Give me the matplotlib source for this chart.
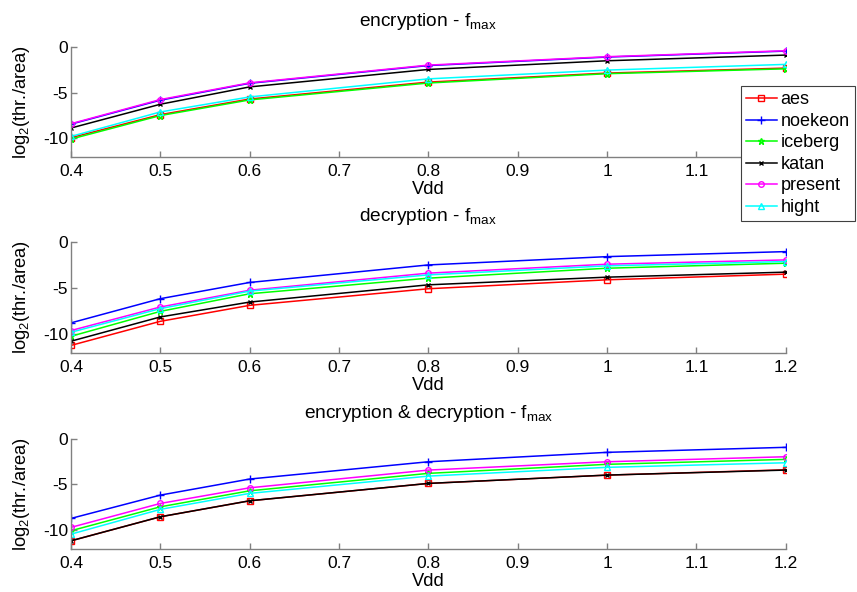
import matplotlib
matplotlib.use("Agg")
import matplotlib.pyplot as plt

plt.rcParams["font.family"] = ["Liberation Sans", "DejaVu Sans"]
plt.rcParams["axes.unicode_minus"] = False
plt.rcParams["mathtext.fontset"] = "custom"
plt.rcParams["mathtext.rm"] = "Liberation Sans"
plt.rcParams["mathtext.it"] = "Liberation Sans"

vdd = [0.4, 0.5, 0.6, 0.8, 1.0, 1.2]
names = ["aes", "noekeon", "iceberg", "katan", "present", "hight"]

# encryption
aes_enc = [-10.0, -7.45, -5.72, -3.85, -2.85, -2.3]
noekeon_enc = [-8.5, -5.85, -3.98, -2.02, -1.08, -0.42]
iceberg_enc = [-10.15, -7.55, -5.82, -3.95, -2.92, -2.38]
katan_enc = [-8.93, -6.3, -4.38, -2.45, -1.49, -0.86]
present_enc = [-8.45, -5.78, -3.93, -1.97, -1.04, -0.38]
hight_enc = [-9.86, -7.15, -5.49, -3.49, -2.52, -1.89]

# decryption
aes_dec = [-11.3, -8.66, -6.91, -5.09, -4.11, -3.49]
noekeon_dec = [-8.83, -6.18, -4.4, -2.48, -1.57, -1.02]
iceberg_dec = [-10.3, -7.57, -5.64, -3.93, -2.84, -2.29]
katan_dec = [-10.84, -8.18, -6.55, -4.66, -3.82, -3.27]
present_dec = [-9.67, -7.09, -5.25, -3.38, -2.4, -1.93]
hight_dec = [-9.86, -7.27, -5.35, -3.57, -2.58, -2.11]

# encryption & decryption
aes_both = [-11.17, -8.54, -6.79, -4.89, -3.98, -3.4]
noekeon_both = [-8.72, -6.17, -4.41, -2.52, -1.49, -0.94]
iceberg_both = [-10.07, -7.45, -5.7, -3.79, -2.8, -2.26]
katan_both = [-11.17, -8.54, -6.79, -4.89, -3.98, -3.43]
present_both = [-9.7, -7.08, -5.37, -3.43, -2.52, -1.97]
hight_both = [-10.44, -7.73, -5.98, -4.09, -3.13, -2.63]

panels = [
    ("encryption - f$_{max}$", [aes_enc, noekeon_enc, iceberg_enc, katan_enc, present_enc, hight_enc]),
    ("decryption - f$_{max}$", [aes_dec, noekeon_dec, iceberg_dec, katan_dec, present_dec, hight_dec]),
    ("encryption & decryption - f$_{max}$", [aes_both, noekeon_both, iceberg_both, katan_both, present_both, hight_both]),
]

colors = ["#ff0000", "#0000ff", "#00ff00", "#000000", "#ff00ff", "#00ffff"]
markers = ["s", "+", "*", "x", "o", "^"]
msizes = [4.5, 5.5, 4.5, 3.5, 4.0, 4.5]

xticks = [0.4, 0.5, 0.6, 0.7, 0.8, 0.9, 1.0, 1.1, 1.2]
xticklabels = ["0.4", "0.5", "0.6", "0.7", "0.8", "0.9", "1", "1.1", "1.2"]
yticks = [-10, -5, 0]

fig = plt.figure(figsize=(8.57, 5.92), dpi=100)
boxes = [(0.0828, 0.7353, 0.834, 0.1848),
         (0.0828, 0.4042, 0.834, 0.1865),
         (0.0828, 0.0721, 0.834, 0.1868)]

axes = []
for (title, series), box in zip(panels, boxes):
    ax = fig.add_axes(box)
    for name, vals, c, m, ms in zip(names, series, colors, markers, msizes):
        ax.plot(vdd, vals, color=c, marker=m, markersize=ms, markerfacecolor="none",
                markeredgecolor=c, linewidth=1.1, label=name)
    ax.set_xlim(0.4, 1.2)
    ax.set_ylim(-12.1, 0)
    ax.set_xticks(xticks)
    ax.set_xticklabels(xticklabels)
    ax.set_yticks(yticks)
    ax.set_yticklabels(["-10", "-5", "0"])
    ax.spines["top"].set_visible(False)
    ax.spines["right"].set_visible(False)
    for s in ["left", "bottom"]:
        ax.spines[s].set_color("#808080")
        ax.spines[s].set_linewidth(1.0)
    ax.tick_params(direction="in", length=4, width=1.0, color="#808080",
                   labelsize=12.5, labelcolor="black")
    ax.tick_params(axis="x", pad=5)
    ax.tick_params(axis="y", pad=2)
    ax.set_title(title, fontsize=13.8, pad=15)
    ax.set_xlabel("Vdd", fontsize=13.2, labelpad=1.5)
    ax.set_ylabel("log$_2$(thr./area)", fontsize=13.2, labelpad=8)
    axes.append(ax)

# the legend hides the last tick label of the top panel
axes[0].get_xticklabels()[-1].set_visible(False)

leg = axes[0].legend(loc="upper right", bbox_to_anchor=(855 / 857, 1 - 86 / 592),
                     bbox_transform=fig.transFigure, fontsize=13, fancybox=False,
                     edgecolor="#404040", framealpha=1, handlelength=1.7,
                     labelspacing=0.25, borderpad=0.3, handletextpad=0.2,
                     borderaxespad=0)
leg.get_frame().set_linewidth(0.8)
leg.set_zorder(10)

fig.savefig("out.png", dpi=100)
